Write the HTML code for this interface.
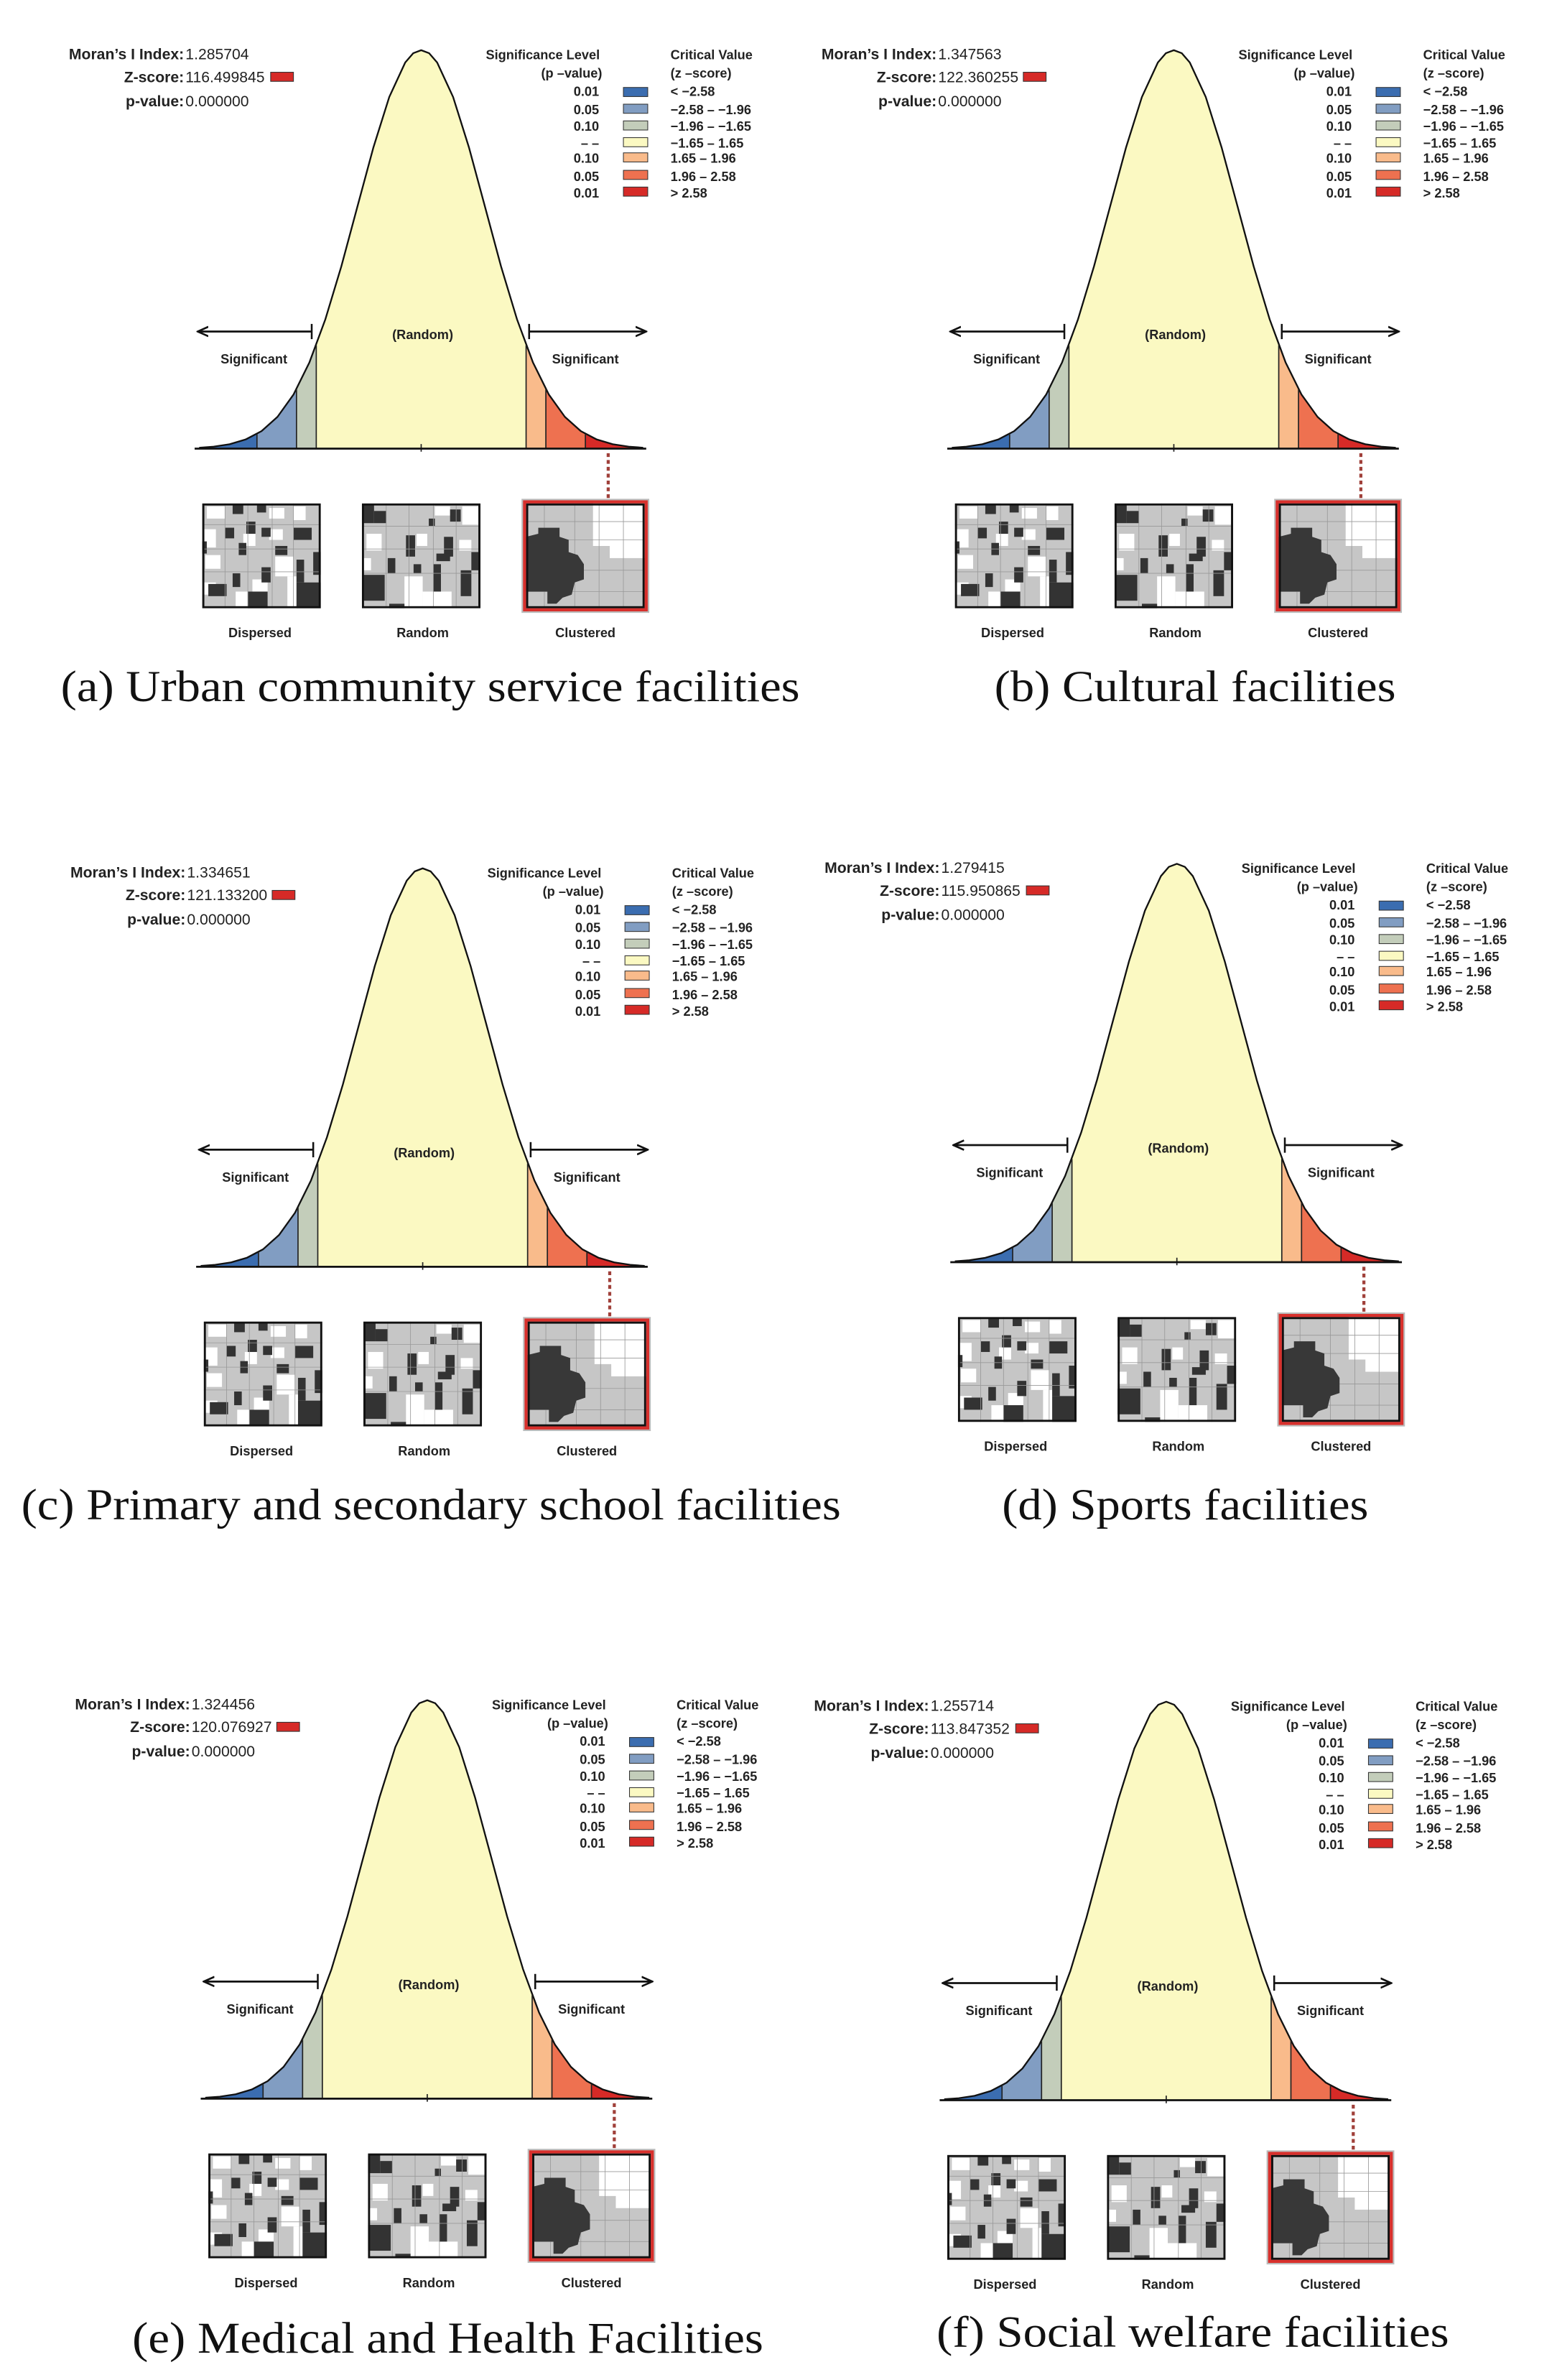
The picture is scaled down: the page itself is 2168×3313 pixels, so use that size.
<!DOCTYPE html>
<html><head><meta charset="utf-8"><style>
html,body{margin:0;padding:0;background:#fff}
svg{display:block}
.s{font-family:"Liberation Sans",sans-serif;font-size:8.6px;fill:#222}
.m{font-family:"Liberation Sans",sans-serif;font-size:10px;fill:#222}
.b{font-weight:bold}
.cap{font-family:"Liberation Serif",serif;font-size:29px;fill:#111}
</style></head><body>
<svg width="2168" height="3313" viewBox="0 0 1024 1565" preserveAspectRatio="none" xmlns="http://www.w3.org/2000/svg">
<defs>
<clipPath id="area"><path d="M131,295 L131,294.4 L140.5,293.7 L151,292.1 L161.5,289 L172,283.5 L182.5,274.1 L193,259.5 L203.5,238.3 L214,209.9 L224.5,175.1 L235,136.1 L245.5,97.2 L256,63.8 L266.5,41.1 L271.75,35 L277,33 L282.25,35 L287.5,41.1 L298,63.8 L308.5,97.2 L319,136.1 L329.5,175.1 L340,209.9 L350.5,238.3 L361,259.5 L371.5,274.1 L382,283.5 L392.5,289 L403,292.1 L413.5,293.7 L423,294.4 L423,295 Z"/></clipPath>
<symbol id="disp" viewBox="0 0 78 69">
<rect x="0" y="0" width="78" height="69" fill="#c6c6c6"/>
<g fill="#fff"><rect x="3" y="2" width="12" height="8"/><rect x="44" y="3" width="10" height="7"/><rect x="60" y="2" width="8" height="9"/><rect x="0" y="17" width="9" height="12"/><rect x="27" y="20" width="8" height="8"/><rect x="44" y="17" width="9" height="7"/><rect x="2" y="34" width="10" height="9"/><rect x="48" y="35" width="12" height="13"/><rect x="0" y="52" width="9" height="8"/><rect x="33" y="50" width="10" height="19"/><rect x="56" y="48" width="6" height="21"/><rect x="22" y="58" width="8" height="11"/></g>
<g fill="#333"><rect x="20" y="1" width="7" height="6"/><rect x="36" y="1" width="6" height="5"/><rect x="29" y="12" width="6" height="8"/><rect x="0" y="25" width="3" height="8"/><rect x="15" y="16" width="6" height="7"/><rect x="39" y="16" width="6" height="6"/><rect x="60" y="16" width="12" height="8"/><rect x="48" y="28" width="8" height="6"/><rect x="24" y="26" width="5" height="8"/><rect x="20" y="46" width="5" height="9"/><rect x="62" y="37" width="5" height="15"/><rect x="39" y="42" width="6" height="10"/><rect x="4" y="53" width="12" height="8"/><rect x="30" y="58" width="13" height="11"/><rect x="62" y="52" width="16" height="17"/><rect x="73" y="32" width="5" height="15"/></g>
<g stroke="#999" stroke-width="0.4" fill="none"><path d="M0,14H78M0,30H78M0,45H78M15,0V69M30,0V69M46,0V69M60,0V69"/></g>
<rect x="0.7" y="0.7" width="76.6" height="67.6" fill="none" stroke="#111" stroke-width="1.4"/>
</symbol>
<symbol id="rand" viewBox="0 0 78 69">
<rect x="0" y="0" width="78" height="69" fill="#c6c6c6"/>
<g fill="#fff"><rect x="48" y="2" width="10" height="6"/><rect x="66" y="2" width="12" height="12"/><rect x="3" y="20" width="10" height="11"/><rect x="36" y="20" width="7" height="8"/><rect x="64" y="24" width="8" height="7"/><rect x="28" y="48" width="12" height="21"/><rect x="40" y="58" width="19" height="11"/><rect x="0" y="36" width="6" height="8"/></g>
<g fill="#333"><rect x="0" y="1" width="8" height="12"/><rect x="8" y="5" width="8" height="8"/><rect x="44" y="10" width="4" height="5"/><rect x="58" y="4" width="7" height="8"/><rect x="29" y="21" width="6" height="14"/><rect x="54" y="22" width="6" height="13"/><rect x="49" y="33" width="9" height="5"/><rect x="17" y="36" width="5" height="10"/><rect x="34" y="40" width="5" height="6"/><rect x="47" y="40" width="5" height="18"/><rect x="0" y="47" width="15" height="17"/><rect x="65" y="44" width="7" height="17"/><rect x="72" y="32" width="6" height="12"/><rect x="18" y="66" width="10" height="3"/></g>
<g stroke="#999" stroke-width="0.4" fill="none"><path d="M0,15H78M0,30H78M0,46H78M16,0V69M31,0V69M47,0V69M62,0V69"/></g>
<rect x="0.7" y="0.7" width="76.6" height="67.6" fill="none" stroke="#111" stroke-width="1.4"/>
</symbol>
<symbol id="clus" viewBox="0 0 78 69">
<rect x="0" y="0" width="78" height="69" fill="#c6c6c6"/>
<path d="M44,0H78V36H55V28H44Z" fill="#fff"/>
<g stroke="#999" stroke-width="0.4" fill="none"><path d="M0,12H78M0,24H78M0,44H78M0,58H78M12,0V69M32,0V69M48,0V69M64,0V69"/></g>
<path d="M0,22 L8,20 L8,16 L22,16 L22,22 L28,24 L28,32 L34,34 L38,40 L38,50 L32,52 L30,60 L24,62 L20,66 L14,66 L14,58 L0,58Z" fill="#383838"/>
<rect x="0.7" y="0.7" width="76.6" height="67.6" fill="none" stroke="#111" stroke-width="1.4"/>
</symbol>
<marker id="ah" viewBox="0 0 10 10" refX="9" refY="5" markerWidth="6" markerHeight="6" orient="auto-start-reverse"><path d="M0,1L9,5L0,9" fill="none" stroke="#111" stroke-width="1.6"/></marker>
<g id="panel">
<g clip-path="url(#area)">
<rect x="120" y="20" width="320" height="280" fill="#fbf9c2"/>
<rect x="120" y="20" width="49" height="280" fill="#3b6db0"/>
<rect x="169" y="20" width="26" height="280" fill="#819dc2"/>
<rect x="195" y="20" width="13" height="280" fill="#c3cdba"/>
<rect x="346" y="20" width="13" height="280" fill="#f9bb8b"/>
<rect x="359" y="20" width="26" height="280" fill="#ee7150"/>
<rect x="385" y="20" width="50" height="280" fill="#d62a27"/>
</g>
<path d="M131,294.4 L140.5,293.7 L151,292.1 L161.5,289 L172,283.5 L182.5,274.1 L193,259.5 L203.5,238.3 L214,209.9 L224.5,175.1 L235,136.1 L245.5,97.2 L256,63.8 L266.5,41.1 L271.75,35 L277,33 L282.25,35 L287.5,41.1 L298,63.8 L308.5,97.2 L319,136.1 L329.5,175.1 L340,209.9 L350.5,238.3 L361,259.5 L371.5,274.1 L382,283.5 L392.5,289 L403,292.1 L413.5,293.7 L423,294.4" fill="none" stroke="#111" stroke-width="1.1" stroke-linejoin="round"/>
<g stroke="#222" stroke-width="0.8"><path d="M208,295V227M195,295V256M169,295V285.4M346,295V227M359,295V256M385,295V285.4M277,292V297"/></g>
<line x1="128" y1="295" x2="425" y2="295" stroke="#111" stroke-width="1.3"/>
<line x1="130" y1="218" x2="205" y2="218" stroke="#111" stroke-width="1.3" marker-start="url(#ah)"/>
<line x1="205" y1="213" x2="205" y2="223" stroke="#111" stroke-width="1.2"/>
<line x1="348" y1="218" x2="425" y2="218" stroke="#111" stroke-width="1.3" marker-end="url(#ah)"/>
<line x1="348" y1="213" x2="348" y2="223" stroke="#111" stroke-width="1.2"/>
<line x1="400" y1="298" x2="400" y2="328" stroke="#a0403a" stroke-width="2" stroke-dasharray="2.5,2"/>
<use href="#disp" x="133" y="331" width="78" height="69"/>
<use href="#rand" x="238" y="331" width="78" height="69"/>
<rect x="343.5" y="328.5" width="83" height="74" fill="#d8302c" stroke="#bbb" stroke-width="1"/>
<use href="#clus" x="346" y="331" width="78" height="69"/>
<g stroke="#333" stroke-width="0.5">
<rect x="410" y="57.5" width="16" height="6" fill="#3b6db0"/>
<rect x="410" y="68.5" width="16" height="6" fill="#819dc2"/>
<rect x="410" y="79.5" width="16" height="6" fill="#c3cdba"/>
<rect x="410" y="90.5" width="16" height="6" fill="#fbf9c2"/>
<rect x="410" y="100.5" width="16" height="6" fill="#f9bb8b"/>
<rect x="410" y="112" width="16" height="6" fill="#ee7150"/>
<rect x="410" y="123" width="16" height="6" fill="#d62a27"/>
<rect x="178" y="47.5" width="15" height="6" fill="#d62a27"/>
</g>
</g>
</defs>

<g transform="translate(0,0)">
<use href="#panel"/>
<g class="m">
<text x="121" y="39" text-anchor="end" class="b">Moran’s I Index:</text><text x="122" y="39">1.285704</text>
<text x="121" y="54" text-anchor="end" class="b">Z-score:</text><text x="122" y="54">116.499845</text>
<text x="121" y="70" text-anchor="end" class="b">p-value:</text><text x="122" y="70">0.000000</text>
</g>
</g>
<g transform="translate(495,0)">
<use href="#panel"/>
<g class="m">
<text x="121" y="39" text-anchor="end" class="b">Moran’s I Index:</text><text x="122" y="39">1.347563</text>
<text x="121" y="54" text-anchor="end" class="b">Z-score:</text><text x="122" y="54">122.360255</text>
<text x="121" y="70" text-anchor="end" class="b">p-value:</text><text x="122" y="70">0.000000</text>
</g>
</g>
<g transform="translate(1,538)">
<use href="#panel"/>
<g class="m">
<text x="121" y="39" text-anchor="end" class="b">Moran’s I Index:</text><text x="122" y="39">1.334651</text>
<text x="121" y="54" text-anchor="end" class="b">Z-score:</text><text x="122" y="54">121.133200</text>
<text x="121" y="70" text-anchor="end" class="b">p-value:</text><text x="122" y="70">0.000000</text>
</g>
</g>
<g transform="translate(497,535)">
<use href="#panel"/>
<g class="m">
<text x="121" y="39" text-anchor="end" class="b">Moran’s I Index:</text><text x="122" y="39">1.279415</text>
<text x="121" y="54" text-anchor="end" class="b">Z-score:</text><text x="122" y="54">115.950865</text>
<text x="121" y="70" text-anchor="end" class="b">p-value:</text><text x="122" y="70">0.000000</text>
</g>
</g>
<g transform="translate(4,1085)">
<use href="#panel"/>
<g class="m">
<text x="121" y="39" text-anchor="end" class="b">Moran’s I Index:</text><text x="122" y="39">1.324456</text>
<text x="121" y="54" text-anchor="end" class="b">Z-score:</text><text x="122" y="54">120.076927</text>
<text x="121" y="70" text-anchor="end" class="b">p-value:</text><text x="122" y="70">0.000000</text>
</g>
</g>
<g transform="translate(490,1086)">
<use href="#panel"/>
<g class="m">
<text x="121" y="39" text-anchor="end" class="b">Moran’s I Index:</text><text x="122" y="39">1.255714</text>
<text x="121" y="54" text-anchor="end" class="b">Z-score:</text><text x="122" y="54">113.847352</text>
<text x="121" y="70" text-anchor="end" class="b">p-value:</text><text x="122" y="70">0.000000</text>
</g>
</g>

<g class="s b">
<g transform="translate(0,0)">
<text x="357" y="39" text-anchor="middle">Significance Level</text><text x="396" y="51" text-anchor="end">(p –value)</text>
<text x="394" y="63" text-anchor="end">0.01</text><text x="394" y="75" text-anchor="end">0.05</text><text x="394" y="86" text-anchor="end">0.10</text><text x="394" y="97" text-anchor="end">– –</text><text x="394" y="107" text-anchor="end">0.10</text><text x="394" y="119" text-anchor="end">0.05</text><text x="394" y="130" text-anchor="end">0.01</text>
<text x="441" y="39">Critical Value</text><text x="441" y="51">(z –score)</text>
<text x="441" y="63">&lt; −2.58</text><text x="441" y="75">−2.58 – −1.96</text><text x="441" y="86">−1.96 – −1.65</text><text x="441" y="97">−1.65 – 1.65</text><text x="441" y="107">1.65 – 1.96</text><text x="441" y="119">1.96 – 2.58</text><text x="441" y="130">&gt; 2.58</text>
<text x="278" y="223" text-anchor="middle">(Random)</text><text x="167" y="239" text-anchor="middle">Significant</text><text x="385" y="239" text-anchor="middle">Significant</text>
<text x="171" y="419" text-anchor="middle">Dispersed</text><text x="278" y="419" text-anchor="middle">Random</text><text x="385" y="419" text-anchor="middle">Clustered</text>
</g>
<g transform="translate(495,0)">
<text x="357" y="39" text-anchor="middle">Significance Level</text><text x="396" y="51" text-anchor="end">(p –value)</text>
<text x="394" y="63" text-anchor="end">0.01</text><text x="394" y="75" text-anchor="end">0.05</text><text x="394" y="86" text-anchor="end">0.10</text><text x="394" y="97" text-anchor="end">– –</text><text x="394" y="107" text-anchor="end">0.10</text><text x="394" y="119" text-anchor="end">0.05</text><text x="394" y="130" text-anchor="end">0.01</text>
<text x="441" y="39">Critical Value</text><text x="441" y="51">(z –score)</text>
<text x="441" y="63">&lt; −2.58</text><text x="441" y="75">−2.58 – −1.96</text><text x="441" y="86">−1.96 – −1.65</text><text x="441" y="97">−1.65 – 1.65</text><text x="441" y="107">1.65 – 1.96</text><text x="441" y="119">1.96 – 2.58</text><text x="441" y="130">&gt; 2.58</text>
<text x="278" y="223" text-anchor="middle">(Random)</text><text x="167" y="239" text-anchor="middle">Significant</text><text x="385" y="239" text-anchor="middle">Significant</text>
<text x="171" y="419" text-anchor="middle">Dispersed</text><text x="278" y="419" text-anchor="middle">Random</text><text x="385" y="419" text-anchor="middle">Clustered</text>
</g>
<g transform="translate(1,538)">
<text x="357" y="39" text-anchor="middle">Significance Level</text><text x="396" y="51" text-anchor="end">(p –value)</text>
<text x="394" y="63" text-anchor="end">0.01</text><text x="394" y="75" text-anchor="end">0.05</text><text x="394" y="86" text-anchor="end">0.10</text><text x="394" y="97" text-anchor="end">– –</text><text x="394" y="107" text-anchor="end">0.10</text><text x="394" y="119" text-anchor="end">0.05</text><text x="394" y="130" text-anchor="end">0.01</text>
<text x="441" y="39">Critical Value</text><text x="441" y="51">(z –score)</text>
<text x="441" y="63">&lt; −2.58</text><text x="441" y="75">−2.58 – −1.96</text><text x="441" y="86">−1.96 – −1.65</text><text x="441" y="97">−1.65 – 1.65</text><text x="441" y="107">1.65 – 1.96</text><text x="441" y="119">1.96 – 2.58</text><text x="441" y="130">&gt; 2.58</text>
<text x="278" y="223" text-anchor="middle">(Random)</text><text x="167" y="239" text-anchor="middle">Significant</text><text x="385" y="239" text-anchor="middle">Significant</text>
<text x="171" y="419" text-anchor="middle">Dispersed</text><text x="278" y="419" text-anchor="middle">Random</text><text x="385" y="419" text-anchor="middle">Clustered</text>
</g>
<g transform="translate(497,535)">
<text x="357" y="39" text-anchor="middle">Significance Level</text><text x="396" y="51" text-anchor="end">(p –value)</text>
<text x="394" y="63" text-anchor="end">0.01</text><text x="394" y="75" text-anchor="end">0.05</text><text x="394" y="86" text-anchor="end">0.10</text><text x="394" y="97" text-anchor="end">– –</text><text x="394" y="107" text-anchor="end">0.10</text><text x="394" y="119" text-anchor="end">0.05</text><text x="394" y="130" text-anchor="end">0.01</text>
<text x="441" y="39">Critical Value</text><text x="441" y="51">(z –score)</text>
<text x="441" y="63">&lt; −2.58</text><text x="441" y="75">−2.58 – −1.96</text><text x="441" y="86">−1.96 – −1.65</text><text x="441" y="97">−1.65 – 1.65</text><text x="441" y="107">1.65 – 1.96</text><text x="441" y="119">1.96 – 2.58</text><text x="441" y="130">&gt; 2.58</text>
<text x="278" y="223" text-anchor="middle">(Random)</text><text x="167" y="239" text-anchor="middle">Significant</text><text x="385" y="239" text-anchor="middle">Significant</text>
<text x="171" y="419" text-anchor="middle">Dispersed</text><text x="278" y="419" text-anchor="middle">Random</text><text x="385" y="419" text-anchor="middle">Clustered</text>
</g>
<g transform="translate(4,1085)">
<text x="357" y="39" text-anchor="middle">Significance Level</text><text x="396" y="51" text-anchor="end">(p –value)</text>
<text x="394" y="63" text-anchor="end">0.01</text><text x="394" y="75" text-anchor="end">0.05</text><text x="394" y="86" text-anchor="end">0.10</text><text x="394" y="97" text-anchor="end">– –</text><text x="394" y="107" text-anchor="end">0.10</text><text x="394" y="119" text-anchor="end">0.05</text><text x="394" y="130" text-anchor="end">0.01</text>
<text x="441" y="39">Critical Value</text><text x="441" y="51">(z –score)</text>
<text x="441" y="63">&lt; −2.58</text><text x="441" y="75">−2.58 – −1.96</text><text x="441" y="86">−1.96 – −1.65</text><text x="441" y="97">−1.65 – 1.65</text><text x="441" y="107">1.65 – 1.96</text><text x="441" y="119">1.96 – 2.58</text><text x="441" y="130">&gt; 2.58</text>
<text x="278" y="223" text-anchor="middle">(Random)</text><text x="167" y="239" text-anchor="middle">Significant</text><text x="385" y="239" text-anchor="middle">Significant</text>
<text x="171" y="419" text-anchor="middle">Dispersed</text><text x="278" y="419" text-anchor="middle">Random</text><text x="385" y="419" text-anchor="middle">Clustered</text>
</g>
<g transform="translate(490,1086)">
<text x="357" y="39" text-anchor="middle">Significance Level</text><text x="396" y="51" text-anchor="end">(p –value)</text>
<text x="394" y="63" text-anchor="end">0.01</text><text x="394" y="75" text-anchor="end">0.05</text><text x="394" y="86" text-anchor="end">0.10</text><text x="394" y="97" text-anchor="end">– –</text><text x="394" y="107" text-anchor="end">0.10</text><text x="394" y="119" text-anchor="end">0.05</text><text x="394" y="130" text-anchor="end">0.01</text>
<text x="441" y="39">Critical Value</text><text x="441" y="51">(z –score)</text>
<text x="441" y="63">&lt; −2.58</text><text x="441" y="75">−2.58 – −1.96</text><text x="441" y="86">−1.96 – −1.65</text><text x="441" y="97">−1.65 – 1.65</text><text x="441" y="107">1.65 – 1.96</text><text x="441" y="119">1.96 – 2.58</text><text x="441" y="130">&gt; 2.58</text>
<text x="278" y="223" text-anchor="middle">(Random)</text><text x="167" y="239" text-anchor="middle">Significant</text><text x="385" y="239" text-anchor="middle">Significant</text>
<text x="171" y="419" text-anchor="middle">Dispersed</text><text x="278" y="419" text-anchor="middle">Random</text><text x="385" y="419" text-anchor="middle">Clustered</text>
</g>
</g>

<text class="cap" x="40" y="461" textLength="486" lengthAdjust="spacingAndGlyphs">(a) Urban community service facilities</text>
<text class="cap" x="654" y="461" textLength="264" lengthAdjust="spacingAndGlyphs">(b) Cultural facilities</text>
<text class="cap" x="14" y="999" textLength="539" lengthAdjust="spacingAndGlyphs">(c) Primary and secondary school facilities</text>
<text class="cap" x="659" y="999" textLength="241" lengthAdjust="spacingAndGlyphs">(d) Sports facilities</text>
<text class="cap" x="87" y="1547" textLength="415" lengthAdjust="spacingAndGlyphs">(e) Medical and Health Facilities</text>
<text class="cap" x="616" y="1543" textLength="337" lengthAdjust="spacingAndGlyphs">(f) Social welfare facilities</text>
</svg>
</body></html>
